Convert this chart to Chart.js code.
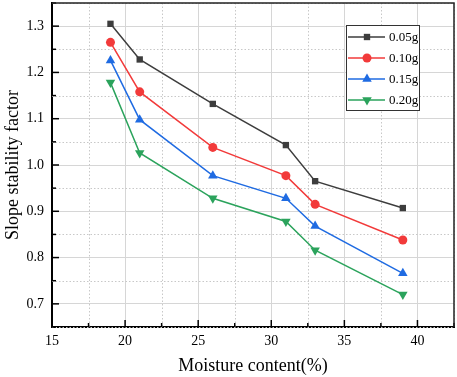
<!DOCTYPE html>
<html>
<head>
<meta charset="utf-8">
<script src="https://cdn.jsdelivr.net/npm/chart.js@4/dist/chart.umd.min.js"></script>
<style>
  html, body { margin: 0; padding: 0; background: #fff; }
  #wrap { width: 457px; height: 377px; }
</style>
</head>
<body>
<div id="wrap"><canvas id="slopeChart" width="457" height="377"></canvas></div>
<script>
// moisture content (%) and slope stability factor for each PGA level
const moisture = [19, 21, 26, 31, 33, 39];
const factor005 = [1.305, 1.228, 1.132, 1.043, 0.965, 0.907];
const factor010 = [1.265, 1.158, 1.038, 0.977, 0.915, 0.838];
const factor015 = [1.226, 1.098, 0.977, 0.928, 0.868, 0.766];
const factor020 = [1.178, 1.026, 0.928, 0.878, 0.816, 0.720];
const seriesLabels = ['0.05g', '0.10g', '0.15g', '0.20g'];
const xTickLabels = [15, 20, 25, 30, 35, 40];
const yTickLabels = [0.7, 0.8, 0.9, 1.0, 1.1, 1.2, 1.3];

const colors = ['#3d3d3d', '#f23a3a', '#1f6be2', '#2ba35c'];
const styles = [
    { pointStyle: 'rect', radius: 4.5, rotation: 0 },
    { pointStyle: 'circle', radius: 4.5, rotation: 0 },
    { pointStyle: 'triangle', radius: 5.5, rotation: 0 },
    { pointStyle: 'triangle', radius: 5.5, rotation: 180 }
];
const serif = '"Liberation Serif", "Times New Roman", serif';

function toPoints(ys) {
    return moisture.map((x, i) => ({ x: x, y: ys[i] }));
}

const datasets = [factor005, factor010, factor015, factor020].map((ys, i) => ({
    label: seriesLabels[i],
    data: toPoints(ys),
    borderColor: colors[i],
    backgroundColor: colors[i],
    borderWidth: 1.5,
    pointStyle: styles[i].pointStyle,
    pointRadius: styles[i].radius,
    pointRotation: styles[i].rotation,
    pointBorderWidth: 0,
    tension: 0
}));

const isMajor = (v, step) => Math.abs(v / step - Math.round(v / step)) < 1e-6;

// minor dotted grid, inward ticks, box frame, and origin-style legend
const framePlugin = {
    id: 'frame',
    beforeDatasetsDraw(chart) {
        const { ctx, chartArea: a, scales } = chart;
        ctx.save();
        ctx.strokeStyle = '#c8c8c8';
        ctx.lineWidth = 1;
        ctx.setLineDash([1.5, 2]);
        scales.x.ticks.forEach(t => {
            if (isMajor(t.value, 5)) return;
            const px = Math.round(scales.x.getPixelForValue(t.value)) + 0.5;
            ctx.beginPath(); ctx.moveTo(px, a.top); ctx.lineTo(px, a.bottom); ctx.stroke();
        });
        scales.y.ticks.forEach(t => {
            if (isMajor(t.value, 0.1)) return;
            const py = Math.round(scales.y.getPixelForValue(t.value)) + 0.5;
            ctx.beginPath(); ctx.moveTo(a.left, py); ctx.lineTo(a.right, py); ctx.stroke();
        });
        ctx.restore();
    },
    afterDatasetsDraw(chart) {
        const { ctx, chartArea: a, scales } = chart;
        ctx.save();
        ctx.strokeStyle = '#000';
        ctx.lineWidth = 1.5;
        scales.x.ticks.forEach(t => {
            const px = scales.x.getPixelForValue(t.value);
            const len = isMajor(t.value, 5) ? 7 : 4;
            ctx.beginPath(); ctx.moveTo(px, a.bottom); ctx.lineTo(px, a.bottom - len); ctx.stroke();
        });
        scales.y.ticks.forEach(t => {
            const py = scales.y.getPixelForValue(t.value);
            const len = isMajor(t.value, 0.1) ? 7 : 4;
            ctx.beginPath(); ctx.moveTo(a.left, py); ctx.lineTo(a.left + len, py); ctx.stroke();
        });
        ctx.strokeStyle = '#222';
        ctx.lineWidth = 1.5;
        ctx.beginPath();
        ctx.moveTo(a.left, a.top);
        ctx.lineTo(a.right, a.top);
        ctx.lineTo(a.right, a.bottom);
        ctx.stroke();

        // legend
        const lx = 346, ly = 25, lw = 73, lh = 85;
        ctx.fillStyle = '#fff';
        ctx.fillRect(lx, ly, lw, lh);
        ctx.strokeStyle = '#333';
        ctx.lineWidth = 1;
        ctx.strokeRect(lx + 0.5, ly + 0.5, lw, lh);
        chart.data.datasets.forEach((ds, i) => {
            const y = ly + 12 + i * 21;
            ctx.strokeStyle = ds.borderColor;
            ctx.lineWidth = 1.5;
            ctx.beginPath(); ctx.moveTo(lx + 2, y); ctx.lineTo(lx + 39, y); ctx.stroke();
            ctx.fillStyle = ds.backgroundColor;
            Chart.helpers.drawPoint(ctx, {
                pointStyle: ds.pointStyle,
                radius: ds.pointRadius,
                rotation: ds.pointRotation,
                borderWidth: 0
            }, lx + 21, y);
            ctx.fillStyle = '#000';
            ctx.font = '13px ' + serif;
            ctx.textBaseline = 'middle';
            ctx.textAlign = 'left';
            ctx.fillText(ds.label, lx + 43, y + 1);
        });
        ctx.restore();
    }
};

const ctx = document.getElementById('slopeChart');
new Chart(ctx, {
    type: 'line',
    data: { datasets: datasets },
    plugins: [framePlugin],
    options: {
        responsive: false,
        animation: false,
        layout: { autoPadding: false, padding: { left: 2, right: 3, top: 3, bottom: 0 } },
        plugins: { legend: { display: false }, tooltip: { enabled: false } },
        scales: {
            x: {
                type: 'linear',
                min: 15,
                max: 42.5,
                afterBuildTicks: scale => {
                    scale.ticks = [];
                    for (let v = 15; v <= 42.5 + 1e-9; v += 2.5) scale.ticks.push({ value: v });
                },
                afterFit: scale => {
                    scale.height = 50;
                    scale.paddingLeft = 0;
                    scale.paddingRight = 0;
                },
                ticks: {
                    autoSkip: false,
                    maxRotation: 0,
                    padding: 6,
                    color: '#000',
                    font: { family: serif, size: 14 },
                    callback: v => xTickLabels.includes(v) ? String(v) : ''
                },
                grid: {
                    drawTicks: false,
                    color: c => (c.tick && isMajor(c.tick.value, 5) && c.tick.value > 15) ? '#d6d6d6' : 'rgba(0,0,0,0)',
                    lineWidth: 1
                },
                border: { display: true, color: '#000', width: 2 },
                title: {
                    display: true,
                    text: 'Moisture content(%)',
                    color: '#000',
                    font: { family: serif, size: 18 },
                    padding: { top: 4, bottom: 0 }
                }
            },
            y: {
                type: 'linear',
                min: 0.65,
                max: 1.35,
                afterBuildTicks: scale => {
                    scale.ticks = [];
                    for (let k = 13; k <= 27; k++) scale.ticks.push({ value: k * 0.05 });
                },
                afterFit: scale => {
                    scale.width = 50;
                    scale.paddingTop = 0;
                    scale.paddingBottom = 0;
                },
                ticks: {
                    autoSkip: false,
                    padding: 8,
                    color: '#000',
                    font: { family: serif, size: 14 },
                    callback: v => {
                        const hit = yTickLabels.find(t => Math.abs(t - v) < 1e-6);
                        return hit !== undefined ? hit.toFixed(1) : '';
                    }
                },
                grid: {
                    drawTicks: false,
                    color: c => (c.tick && isMajor(c.tick.value, 0.1)) ? '#d6d6d6' : 'rgba(0,0,0,0)',
                    lineWidth: 1
                },
                border: { display: true, color: '#000', width: 2 },
                title: {
                    display: true,
                    text: 'Slope stability factor',
                    color: '#000',
                    font: { family: serif, size: 18 },
                    padding: { top: 0, bottom: 2 }
                }
            }
        }
    }
});
</script>
</body>
</html>
